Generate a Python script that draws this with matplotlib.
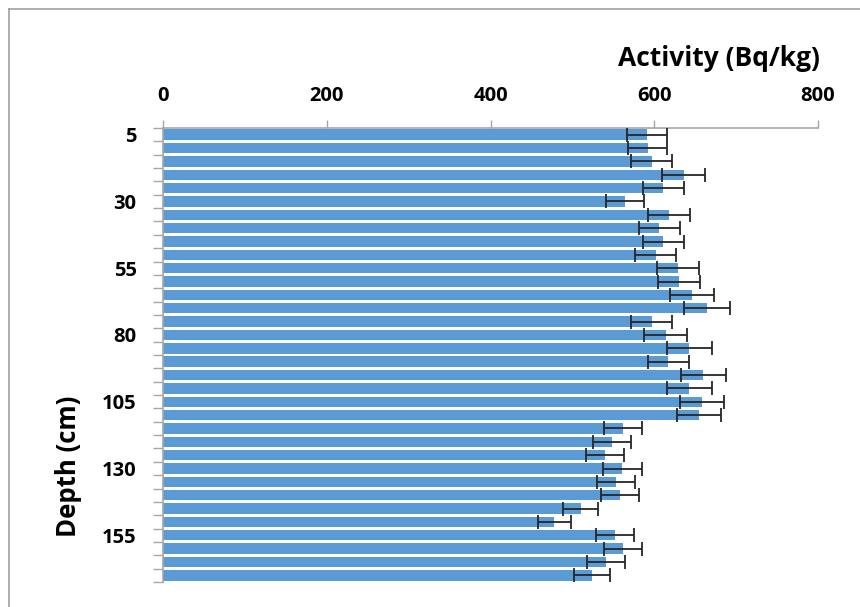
import numpy as np
import matplotlib
matplotlib.use("Agg")
import matplotlib.pyplot as plt
from matplotlib.lines import Line2D

plt.rcParams['font.family'] = ['Open Sans', 'DejaVu Sans']
plt.rcParams['font.weight'] = 'bold'

# depth of each slice (cm) and its activity with uncertainty (Bq/kg)
depth = [5, 10, 15, 20, 25, 30, 35, 40, 45, 50, 55, 60, 65, 70, 75, 80, 85,
         90, 95, 100, 105, 110, 115, 120, 125, 130, 135, 140, 145, 150, 155,
         160, 165, 170]
activity = [591, 592, 597, 636, 611, 564, 618, 606, 611, 602, 629, 630, 646,
            664, 597, 614, 643, 617, 660, 643, 658, 655, 562, 548, 540, 561,
            553, 558, 510, 478, 552, 562, 541, 524]
error = [24, 24, 25, 26, 25, 23.5, 26, 25, 25, 25, 26, 26, 27, 28, 25, 26, 27,
         25, 27.5, 27, 27, 27, 23.5, 23, 23, 23.5, 23, 23, 21, 20.5, 23, 23.5,
         23, 22]
x_ticks = [0, 200, 400, 600, 800]

W, H = 860, 607
fig = plt.figure(figsize=(W / 100, H / 100), dpi=100)
ax = fig.add_axes([163 / W, 1 - 582 / H, (818 - 163) / W, (582 - 128) / H])

pos = np.arange(len(depth))
ax.barh(pos, activity, height=0.78, color='#5B9BD5', zorder=2)
ax.errorbar(activity, pos, xerr=error, fmt='none', ecolor='#262626',
            elinewidth=1.3, capsize=5, capthick=1.3, zorder=3)

ax.set_xlim(0, 800)
ax.set_ylim(len(depth) - 0.5, -0.5)

# value axis on top
ax.xaxis.tick_top()
ax.set_xticks(x_ticks)
ax.set_xticklabels([str(v) for v in x_ticks])
ax.tick_params(axis='x', which='major', length=6, width=1, color='#A6A6A6',
               labelsize=14.5, pad=10)

# category ticks between bars, labels every 25 cm
ax.set_yticks(pos[::5])
ax.set_yticklabels([str(d) for d in depth[::5]])
ax.set_yticks(np.arange(len(depth) + 1) - 0.5, minor=True)
ax.tick_params(axis='y', which='major', length=0, labelsize=14.5, pad=19)
ax.tick_params(axis='y', which='minor', length=7, width=1, color='#A6A6A6')

for side in ['right', 'bottom']:
    ax.spines[side].set_visible(False)
for side in ['left', 'top']:
    ax.spines[side].set_color('#A6A6A6')
    ax.spines[side].set_linewidth(1.2)

fig.text(820 / W, 1 - 58 / H, 'Activity (Bq/kg)', ha='right', va='center',
         fontsize=19, fontweight='bold')
fig.text(68 / W, 1 - 466 / H, 'Depth (cm)', ha='center', va='center',
         rotation=90, fontsize=18.5, fontweight='bold')

# chart area frame
fig.add_artist(Line2D([9 / W, 1], [1 - 9 / H, 1 - 9 / H], color='#A0A0A0', lw=1.2))
fig.add_artist(Line2D([9 / W, 9 / W], [1 - 9 / H, 0], color='#A0A0A0', lw=1.2))

fig.savefig('out.png', dpi=100)
